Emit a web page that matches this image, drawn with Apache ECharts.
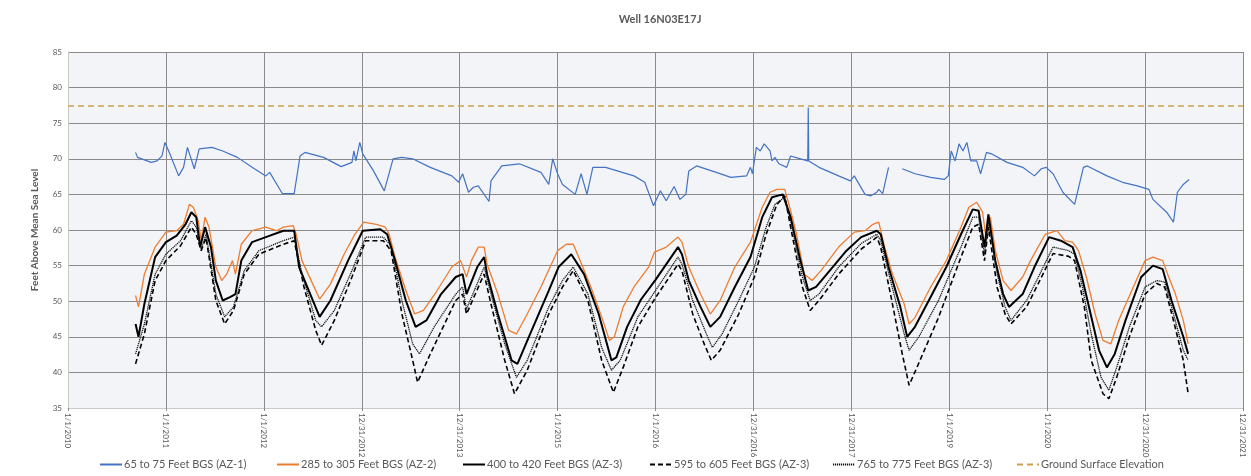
<!DOCTYPE html>
<html><head><meta charset="utf-8">
<script src="https://cdn.jsdelivr.net/npm/echarts@6/dist/echarts.min.js"></script>
<style>html,body{margin:0;padding:0;background:#fff}#c{width:1251px;height:476px}</style>
</head><body><div id="c"></div>
<script>
const titleText = 'Well 16N03E17J';
const yAxisName = 'Feet Above Mean Sea Level';
const xTickLabels = ['1/1/2010','1/1/2011','1/1/2012','12/31/2012','12/31/2013','1/1/2015','1/1/2016','12/31/2016','12/31/2017','1/1/2019','1/1/2020','12/31/2020','12/31/2021'];
const seriesNames = ['65 to 75 Feet BGS (AZ-1)','285 to 305 Feet BGS (AZ-2)','400 to 420 Feet BGS (AZ-3)','595 to 605 Feet BGS (AZ-3)','765 to 775 Feet BGS (AZ-3)','Ground Surface Elevation'];

const az1 = [[2010.69,70.9],[2010.71,70.2],[2010.85,69.5],[2010.91,69.7],[2010.96,70.4],[2010.99,72.3],[2011.04,70.7],[2011.13,67.6],[2011.18,68.8],[2011.22,71.6],[2011.29,68.6],[2011.34,71.4],[2011.47,71.6],[2011.58,71.1],[2011.73,70.2],[2011.88,68.8],[2012.02,67.6],[2012.06,68.1],[2012.19,65.1],[2012.31,65.1],[2012.37,70.4],[2012.42,70.9],[2012.61,70.2],[2012.79,68.9],[2012.90,69.5],[2012.92,71.1],[2012.94,69.7],[2012.98,72.3],[2013.01,70.7],[2013.12,68.3],[2013.23,65.5],[2013.32,70.0],[2013.41,70.2],[2013.52,70.0],[2013.70,68.8],[2013.92,67.6],[2013.99,66.7],[2014.03,67.9],[2014.09,65.3],[2014.14,66.0],[2014.19,66.2],[2014.30,64.0],[2014.32,66.9],[2014.43,69.0],[2014.61,69.3],[2014.83,68.1],[2014.91,66.4],[2014.95,70.0],[2015.00,67.9],[2015.05,66.4],[2015.18,65.0],[2015.24,67.9],[2015.30,65.0],[2015.36,68.8],[2015.49,68.8],[2015.78,67.6],[2015.89,66.7],[2015.98,63.4],[2016.05,65.5],[2016.11,64.1],[2016.19,66.1],[2016.25,64.3],[2016.31,65.0],[2016.34,68.3],[2016.42,69.0],[2016.62,68.1],[2016.77,67.4],[2016.93,67.6],[2016.97,68.8],[2016.99,67.9],[2017.03,71.6],[2017.07,71.1],[2017.11,72.1],[2017.17,71.1],[2017.19,69.7],[2017.22,70.2],[2017.26,69.3],[2017.34,68.8],[2017.38,70.4],[2017.48,70.0],[2017.555,69.7],[2017.56,77.2],[2017.565,69.7],[2017.67,68.8],[2017.87,67.6],[2017.99,66.9],[2018.03,67.6],[2018.14,65.0],[2018.20,64.8],[2018.26,65.3],[2018.28,65.7],[2018.32,65.1],[2018.38,68.8],[2018.45,null],[2018.52,68.6],[2018.65,67.9],[2018.81,67.4],[2018.95,67.1],[2018.99,67.6],[2019.02,71.1],[2019.06,69.7],[2019.10,72.1],[2019.14,71.1],[2019.18,72.3],[2019.22,69.7],[2019.28,69.7],[2019.32,67.9],[2019.38,70.9],[2019.43,70.7],[2019.59,69.5],[2019.75,68.8],[2019.87,67.6],[2019.94,68.6],[2019.99,68.8],[2020.06,67.9],[2020.16,65.3],[2020.28,63.6],[2020.37,68.8],[2020.41,69.0],[2020.61,67.6],[2020.77,66.7],[2020.92,66.2],[2021.04,65.7],[2021.08,64.3],[2021.22,62.5],[2021.29,61.1],[2021.33,65.3],[2021.39,66.4],[2021.45,67.1]];

const az2 = [[2010.69,50.8],[2010.72,49.2],[2010.78,53.8],[2010.89,57.6],[2011.0,59.7],[2011.11,59.9],[2011.18,60.8],[2011.24,63.6],[2011.28,63.2],[2011.33,61.3],[2011.36,58.5],[2011.40,61.8],[2011.44,60.4],[2011.51,54.8],[2011.57,52.9],[2011.62,53.8],[2011.68,55.7],[2011.71,53.8],[2011.77,58.0],[2011.88,59.9],[2012.02,60.4],[2012.13,59.9],[2012.20,60.4],[2012.30,60.6],[2012.33,59.4],[2012.39,55.7],[2012.50,52.4],[2012.57,50.3],[2012.68,52.4],[2012.82,56.6],[2012.93,59.4],[2013.02,61.1],[2013.15,60.8],[2013.24,60.4],[2013.28,59.4],[2013.34,56.2],[2013.45,51.5],[2013.54,48.2],[2013.63,48.7],[2013.77,51.5],[2013.92,54.8],[2014.01,55.7],[2014.07,53.4],[2014.12,55.7],[2014.19,57.6],[2014.25,57.6],[2014.28,55.2],[2014.39,51.0],[2014.50,45.9],[2014.58,45.4],[2014.69,48.2],[2014.83,52.0],[2015.0,57.1],[2015.09,58.0],[2015.16,58.0],[2015.23,55.7],[2015.34,52.0],[2015.45,47.8],[2015.53,44.5],[2015.58,45.0],[2015.67,49.2],[2015.78,52.0],[2015.93,54.8],[2015.99,56.9],[2016.11,57.6],[2016.23,59.0],[2016.27,58.3],[2016.34,54.8],[2016.46,51.0],[2016.56,48.2],[2016.66,50.1],[2016.81,54.8],[2016.97,58.3],[2017.09,63.2],[2017.17,65.3],[2017.24,65.7],[2017.32,65.7],[2017.38,62.7],[2017.44,59.4],[2017.52,53.8],[2017.60,52.9],[2017.69,54.3],[2017.87,57.6],[2018.03,59.7],[2018.14,59.9],[2018.22,60.8],[2018.28,61.1],[2018.34,57.6],[2018.42,53.8],[2018.54,49.6],[2018.59,46.8],[2018.65,47.7],[2018.81,52.0],[2018.97,55.7],[2019.12,60.4],[2019.20,63.2],[2019.28,63.9],[2019.34,62.5],[2019.38,58.5],[2019.42,61.8],[2019.47,57.1],[2019.55,52.9],[2019.63,51.5],[2019.75,53.4],[2019.83,55.7],[2019.98,59.4],[2020.10,59.9],[2020.18,58.5],[2020.26,58.3],[2020.32,57.1],[2020.40,53.4],[2020.49,48.2],[2020.57,44.5],[2020.65,44.0],[2020.73,47.3],[2020.88,52.0],[2021.0,55.7],[2021.08,56.2],[2021.18,55.7],[2021.23,53.8],[2021.31,51.0],[2021.39,47.3],[2021.44,44.0]];

const az3_400 = [[2010.69,46.8],[2010.72,45.0],[2010.78,49.6],[2010.89,56.2],[2011.0,58.3],[2011.11,59.2],[2011.20,60.8],[2011.26,62.5],[2011.31,61.8],[2011.35,57.6],[2011.40,60.4],[2011.46,57.6],[2011.51,52.9],[2011.58,50.1],[2011.66,50.6],[2011.71,51.0],[2011.77,55.7],[2011.88,58.3],[2012.02,59.0],[2012.20,59.9],[2012.31,59.9],[2012.36,54.8],[2012.50,50.1],[2012.57,47.8],[2012.68,50.1],[2012.86,55.7],[2013.01,59.9],[2013.19,60.1],[2013.26,59.4],[2013.34,55.7],[2013.45,50.1],[2013.55,46.4],[2013.66,47.3],[2013.81,51.0],[2013.96,53.4],[2014.03,53.8],[2014.07,51.0],[2014.18,54.8],[2014.25,56.2],[2014.28,53.8],[2014.39,48.2],[2014.53,41.7],[2014.59,41.2],[2014.72,45.4],[2014.91,51.5],[2015.01,54.8],[2015.14,56.6],[2015.27,53.8],[2015.42,48.2],[2015.55,41.7],[2015.60,42.1],[2015.71,46.4],[2015.85,50.2],[2016.0,53.0],[2016.23,57.6],[2016.27,56.6],[2016.34,52.9],[2016.46,49.2],[2016.56,46.4],[2016.66,47.8],[2016.81,52.0],[2016.97,56.2],[2017.09,61.8],[2017.19,64.6],[2017.30,65.0],[2017.38,61.8],[2017.48,55.7],[2017.56,51.5],[2017.64,52.0],[2017.75,53.8],[2017.95,57.1],[2018.10,59.0],[2018.26,59.9],[2018.30,59.4],[2018.38,54.8],[2018.50,49.2],[2018.57,45.0],[2018.65,46.4],[2018.81,50.6],[2018.97,54.8],[2019.12,59.4],[2019.24,62.9],[2019.30,62.7],[2019.36,57.6],[2019.40,62.2],[2019.47,55.7],[2019.55,51.0],[2019.61,49.2],[2019.75,51.0],[2019.87,54.8],[2020.02,59.0],[2020.14,58.5],[2020.26,57.6],[2020.34,54.3],[2020.42,49.6],[2020.53,43.1],[2020.61,40.7],[2020.69,42.6],[2020.80,47.3],[2020.96,53.4],[2021.08,55.0],[2021.18,54.5],[2021.27,50.1],[2021.39,45.0],[2021.44,42.6]];

const az3_595 = [[2010.69,41.2],[2010.78,45.4],[2010.89,52.9],[2011.0,55.7],[2011.15,57.8],[2011.26,60.4],[2011.31,59.4],[2011.36,57.1],[2011.41,58.9],[2011.51,50.1],[2011.60,46.8],[2011.69,48.7],[2011.80,53.8],[2011.95,56.6],[2012.20,58.0],[2012.31,58.5],[2012.41,52.0],[2012.53,45.9],[2012.59,43.8],[2012.72,47.3],[2012.90,53.4],[2013.04,58.5],[2013.22,58.5],[2013.30,57.1],[2013.41,48.2],[2013.52,41.7],[2013.57,38.6],[2013.70,42.6],[2013.96,50.1],[2014.03,51.0],[2014.07,48.2],[2014.22,52.9],[2014.25,53.8],[2014.32,49.6],[2014.46,41.7],[2014.56,37.0],[2014.69,40.3],[2014.91,48.2],[2015.05,52.0],[2015.16,54.3],[2015.31,50.1],[2015.45,41.7],[2015.57,37.2],[2015.67,40.7],[2015.82,46.4],[2016.0,50.5],[2016.23,55.2],[2016.27,54.3],[2016.38,48.2],[2016.50,43.9],[2016.57,41.7],[2016.66,43.1],[2016.85,48.2],[2017.01,53.4],[2017.13,59.4],[2017.24,63.6],[2017.32,64.8],[2017.38,60.4],[2017.50,52.0],[2017.58,48.7],[2017.67,50.1],[2017.87,53.8],[2018.10,57.3],[2018.26,59.0],[2018.30,57.6],[2018.40,51.0],[2018.52,42.6],[2018.59,38.2],[2018.67,40.7],[2018.89,47.7],[2019.12,56.2],[2019.24,60.4],[2019.30,60.8],[2019.36,55.7],[2019.40,60.4],[2019.49,51.9],[2019.57,48.2],[2019.63,46.8],[2019.79,49.2],[2019.91,52.5],[2020.06,56.7],[2020.22,56.3],[2020.28,55.7],[2020.38,49.2],[2020.45,41.7],[2020.57,37.0],[2020.63,36.3],[2020.71,39.3],[2020.84,45.0],[2021.00,51.0],[2021.12,52.5],[2021.20,52.0],[2021.29,47.3],[2021.39,41.7],[2021.44,37.0]];

const az3_765 = [[2010.69,42.6],[2010.78,46.8],[2010.89,53.8],[2011.0,56.6],[2011.15,58.5],[2011.26,61.3],[2011.31,60.4],[2011.36,57.3],[2011.41,59.4],[2011.51,51.0],[2011.60,47.8],[2011.69,49.2],[2011.80,54.3],[2011.95,57.1],[2012.20,58.5],[2012.31,59.0],[2012.39,53.8],[2012.53,47.3],[2012.59,46.4],[2012.72,48.7],[2012.90,54.3],[2013.04,59.0],[2013.22,59.0],[2013.30,57.8],[2013.41,50.1],[2013.52,44.0],[2013.59,42.6],[2013.74,46.4],[2013.96,51.0],[2014.03,52.0],[2014.07,48.9],[2014.22,53.8],[2014.25,54.8],[2014.32,51.0],[2014.46,44.0],[2014.58,39.3],[2014.69,41.7],[2014.91,49.2],[2015.05,52.9],[2015.16,54.8],[2015.31,51.0],[2015.45,43.5],[2015.55,40.3],[2015.64,41.7],[2015.82,47.8],[2016.0,51.5],[2016.23,56.2],[2016.27,55.2],[2016.38,50.1],[2016.52,45.4],[2016.58,43.5],[2016.68,45.4],[2016.85,50.1],[2017.01,54.8],[2017.13,60.4],[2017.22,63.6],[2017.32,64.6],[2017.38,61.3],[2017.50,53.4],[2017.58,50.1],[2017.67,51.0],[2017.87,54.8],[2018.10,58.1],[2018.26,59.4],[2018.30,58.5],[2018.40,52.9],[2018.54,45.4],[2018.59,43.1],[2018.69,45.0],[2018.89,50.1],[2019.12,57.6],[2019.24,61.8],[2019.30,61.8],[2019.36,56.6],[2019.40,61.3],[2019.49,53.8],[2019.57,49.2],[2019.63,47.3],[2019.79,50.1],[2019.91,53.4],[2020.06,57.6],[2020.22,57.1],[2020.28,56.6],[2020.36,52.0],[2020.45,45.4],[2020.55,39.3],[2020.63,37.5],[2020.71,40.7],[2020.84,46.4],[2021.00,52.0],[2021.12,52.9],[2021.20,52.7],[2021.29,48.2],[2021.39,43.1],[2021.44,41.7]];

const groundSurface = [[2010,77.4],[2022,77.4]];

const FONT = 'Lato, "Open Sans", sans-serif';
const TXT = '#595959';
const chart = echarts.init(document.getElementById('c'), null, {renderer: 'canvas'});

const legendX = [94, 271, 457, 644, 827, 1011];
const legends = seriesNames.map((n, i) => ({
  data: [n], left: legendX[i], top: 454, itemWidth: 22, itemHeight: 12, itemGap: 0,
  textStyle: {fontSize: 11, color: TXT, fontFamily: FONT, padding: [0, 0, 0, -3]},
  itemStyle: {opacity: 0}
}));

function lineSeries(name, data, color, width, type, z) {
  return {
    name, type: 'line', data, symbol: 'none', showSymbol: false, connectNulls: false,
    lineStyle: {color, width, type}, itemStyle: {color}, z, silent: true
  };
}

chart.setOption({
  animation: false,
  backgroundColor: '#ffffff',
  title: {
    text: titleText, left: 655, top: 9, textAlign: 'center',
    textStyle: {fontSize: 11, fontWeight: 'bold', color: TXT, fontFamily: FONT}
  },
  legend: legends,
  grid: {left: 68, right: 8, top: 52, bottom: 68, show: true, backgroundColor: '#f3f4f7', borderWidth: 0},
  xAxis: {
    type: 'value', min: 2010, max: 2022, interval: 1,
    axisLine: {show: true, lineStyle: {color: '#c8c8c8'}},
    axisTick: {show: true, length: 3, lineStyle: {color: '#8a8a8a'}},
    splitLine: {show: true, lineStyle: {color: '#8a8a8a', width: 1}},
    axisLabel: {
      rotate: -90, fontSize: 8, color: TXT, fontFamily: FONT, margin: 5,
      formatter: v => xTickLabels[Math.round(v - 2010)] || ''
    }
  },
  yAxis: {
    type: 'value', min: 35, max: 85, interval: 5,
    name: yAxisName, nameLocation: 'middle', nameGap: 28, nameRotate: 90,
    nameTextStyle: {fontSize: 10, fontWeight: 'bold', color: TXT, fontFamily: FONT},
    axisLine: {show: true, lineStyle: {color: '#c8c8c8'}},
    axisTick: {show: false},
    splitLine: {show: true, lineStyle: {color: '#8a8a8a', width: 1}},
    axisLabel: {fontSize: 8, color: TXT, fontFamily: FONT, margin: 6}
  },
  series: [
    lineSeries(seriesNames[0], az1, '#4472c4', 1.2, 'solid', 3),
    lineSeries(seriesNames[1], az2, '#ed7d31', 1.3, 'solid', 4),
    lineSeries(seriesNames[2], az3_400, '#000000', 2, 'solid', 5),
    lineSeries(seriesNames[3], az3_595, '#000000', 1.6, [5, 3], 6),
    lineSeries(seriesNames[4], az3_765, '#111111', 1.3, [1.2, 0.8], 6),
    lineSeries(seriesNames[5], groundSurface, '#c9a24a', 1.5, [6, 4], 2)
  ]
});
</script></body></html>
